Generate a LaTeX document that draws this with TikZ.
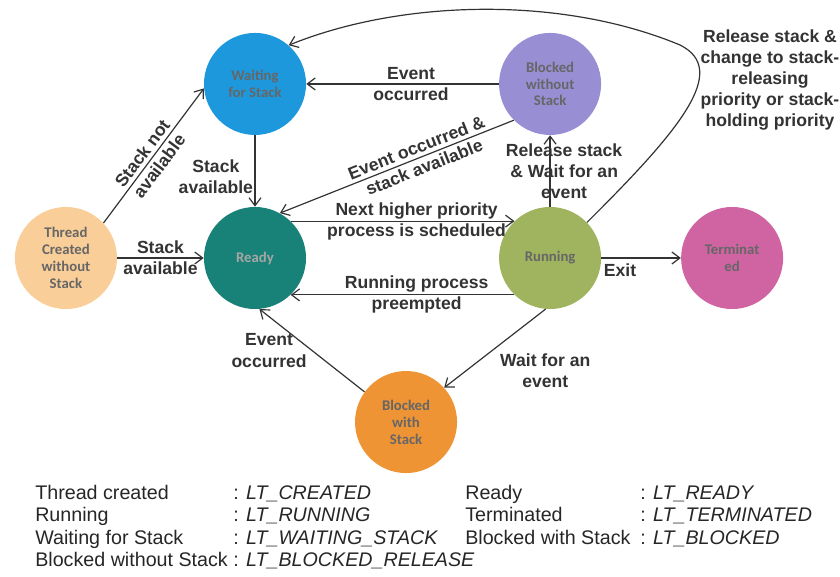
\documentclass[tikz,border=0pt]{standalone}
\usepackage{fontspec}
\usepackage{tikz}
\usetikzlibrary{positioning, arrows.meta}
\newfontfamily\lblfont{Liberation Sans}
\newfontfamily\statefont{Carlito}
\newfontfamily\legfont{Liberation Sans}
\definecolor{waitcol}{RGB}{30,152,220}
\definecolor{blkwocol}{RGB}{152,142,212}
\definecolor{threadcol}{RGB}{250,206,152}
\definecolor{readycol}{RGB}{24,130,120}
\definecolor{runcol}{RGB}{160,180,95}
\definecolor{termcol}{RGB}{208,100,162}
\definecolor{blkwcol}{RGB}{238,148,52}

\begin{document}
\begin{tikzpicture}[x=0.025cm, y=-0.025cm, on grid,
    >={Straight Barb[length=2mm,width=3mm]},
    stnode/.style={circle, minimum size=2.55cm, inner sep=0pt, align=center,
        font=\statefont\bfseries\fontsize{10.5}{12}\selectfont, text=black!60},
    lbl/.style={font=\lblfont\bfseries\fontsize{12.5}{15}\selectfont, text=black!80, align=center},
    leg/.style={font=\legfont\fontsize{14}{16}\selectfont, text=black!85, anchor=base west, inner sep=0pt},
    trans/.style={->, line width=0.85pt, draw=black!80}]
\useasboundingbox (0,0) rectangle (840,577);

% states
\node (ready) [stnode, fill=readycol, text=black!35] at (255,258) {Ready};
\node (wait) [stnode, fill=waitcol, above=4.35cm of ready] {Waiting\\for Stack};
\node (thread) [stnode, fill=threadcol, left=4.725cm of ready] {Thread\\Created\\without\\Stack};
\node (run) [stnode, fill=runcol, right=7.375cm of ready] {Running};
\node (blkwo) [stnode, fill=blkwocol, above=4.35cm of run] {Blocked\\without\\Stack};
\node (term) [stnode, fill=termcol, right=4.55cm of run] {Terminat\\ed};
\node (blkw) [stnode, fill=blkwcol, below right=4.1cm and 3.775cm of ready] {Blocked\\with\\Stack};

% transitions
\draw[trans] (thread.43) -- (wait.185) node[lbl, pos=0.47, sloped, inner sep=1pt] {Stack not\\available};
\draw[trans] (thread) -- (ready) node[lbl, midway] {Stack\\available};
\draw[trans] (wait) -- (ready) node[lbl, midway, left, inner sep=1pt, yshift=-4] {Stack\\available};
\draw[trans] (blkwo) -- (wait) node[lbl, midway, xshift=6] {Event\\occurred};
\draw[trans] (blkwo.225) -- (ready.61) node[lbl, pos=0.4, sloped] {Event occurred \&\\stack available};
\draw[trans] (ready.46) -- (run.134) node[lbl, midway, xshift=10] {Next higher priority\\process is scheduled};
\draw[trans] (run.226) -- (ready.-46) node[lbl, midway, xshift=10] {Running process\\preempted};
\draw[trans] (run) -- (blkwo) node[lbl, midway, xshift=10] {Release stack\\\& Wait for an\\event};
\draw[trans] (run) -- (term) node[lbl, midway, below, xshift=-15] {Exit};
\draw[trans] (run.265) -- (blkw.42) node[lbl, midway, below right] {Wait for an\\event};
\draw[trans] (blkw.144) -- (ready.275) node[lbl, midway, left] {Event\\occurred};
\coordinate (bend) at (680,45);
\draw[trans] (run.44) .. controls (680,130) and (730,70) .. (bend)
    .. controls (560,-5) and (400,0) .. (wait.49);
\node (relnote) [lbl] at (770,80) {Release stack \&\\change to stack-\\releasing\\priority or stack-\\holding priority};

% legend
\node (legcreated) [leg] at (35,499) {Thread created};
\node (legcreatedv) [leg] at (233,499) {: \textit{LT\_CREATED}};
\node (legready) [leg] at (465,499) {Ready};
\node (legreadyv) [leg] at (640,499) {: \textit{LT\_READY}};
\node (legrun) [leg] at (35,521) {Running};
\node (legrunv) [leg] at (233,521) {: \textit{LT\_RUNNING}};
\node (legterm) [leg] at (465,521) {Terminated};
\node (legtermv) [leg] at (640,521) {: \textit{LT\_TERMINATED}};
\node (legwait) [leg] at (35,544) {Waiting for Stack};
\node (legwaitv) [leg] at (233,544) {: \textit{LT\_WAITING\_STACK}};
\node (legblkw) [leg] at (465,544) {Blocked with Stack};
\node (legblkwv) [leg] at (640,544) {: \textit{LT\_BLOCKED}};
\node (legblkwo) [leg] at (35,566) {Blocked without Stack};
\node (legblkwov) [leg] at (233,566) {: \textit{LT\_BLOCKED\_RELEASE}};
\end{tikzpicture}
\end{document}
